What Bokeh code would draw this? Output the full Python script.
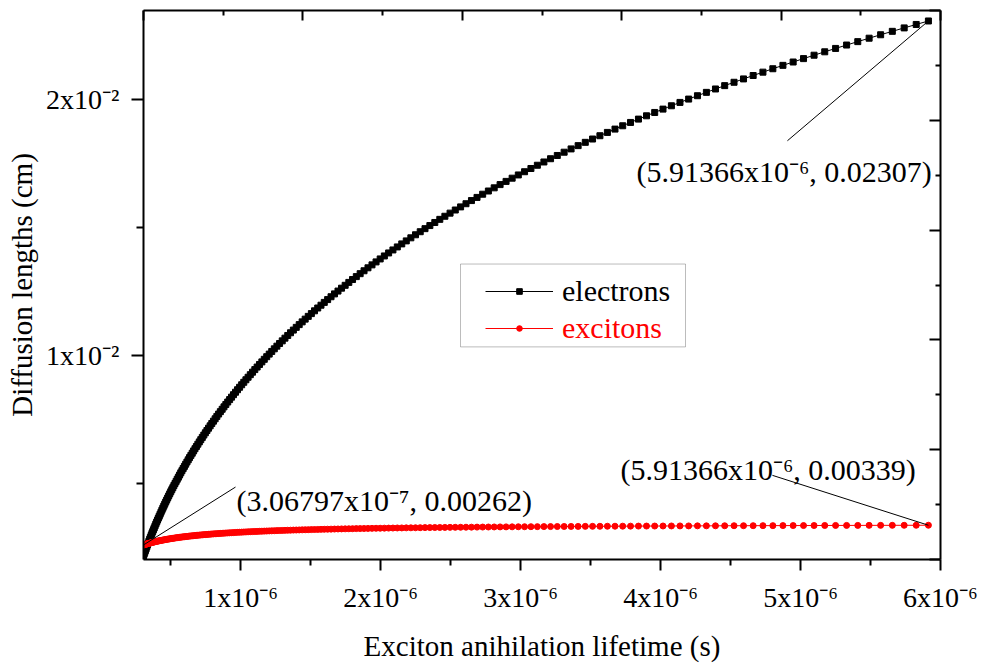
from bokeh.plotting import figure
from bokeh.models import (Range1d, LinearAxis, FixedTicker, Legend, LegendItem, Label,
                          BoxAnnotation, CustomLabelingPolicy)
from bokeh.embed import file_html
from bokeh.resources import INLINE

# ---------------- data (lifetime in microseconds, lengths in cm) ----------------
lifetime_us = [
    0.306797, 0.31139, 0.31606, 0.32079, 0.32560, 0.33047, 0.33543, 0.34045, 0.34555, 0.35073,
    0.35598, 0.36131, 0.36672, 0.37222, 0.37779, 0.38345, 0.38920, 0.39503, 0.40094, 0.40695,
    0.41305, 0.41923, 0.42551, 0.43189, 0.43836, 0.44492, 0.45159, 0.45835, 0.46522, 0.47219,
    0.47926, 0.48644, 0.49373, 0.50112, 0.50863, 0.51625, 0.52398, 0.53183, 0.53980, 0.54788,
    0.55609, 0.56442, 0.57288, 0.58146, 0.59017, 0.59901, 0.60798, 0.61709, 0.62633, 0.63572,
    0.64524, 0.65490, 0.66472, 0.67467, 0.68478, 0.69504, 0.70545, 0.71602, 0.72674, 0.73763,
    0.74868, 0.75989, 0.77128, 0.78283, 0.79456, 0.80646, 0.81854, 0.83080, 0.84324, 0.85588,
    0.86870, 0.88171, 0.89492, 0.90832, 0.92193, 0.93574, 0.94976, 0.96398, 0.97843, 0.99308,
    1.00796, 1.02306, 1.03838, 1.05394, 1.06972, 1.08575, 1.10201, 1.11852, 1.13528, 1.15228,
    1.16954, 1.18706, 1.20484, 1.22289, 1.24121, 1.25980, 1.27867, 1.29783, 1.31727, 1.33700,
    1.35703, 1.37736, 1.39799, 1.41893, 1.44019, 1.46176, 1.48366, 1.50588, 1.52844, 1.55134,
    1.57457, 1.59816, 1.62210, 1.64640, 1.67106, 1.69609, 1.72150, 1.74729, 1.77346, 1.80003,
    1.82699, 1.85436, 1.88214, 1.91033, 1.93895, 1.96799, 1.99747, 2.02740, 2.05777, 2.08859,
    2.11988, 2.15163, 2.18386, 2.21658, 2.24978, 2.28348, 2.31769, 2.35240, 2.38764, 2.42341,
    2.45971, 2.49656, 2.53395, 2.57191, 2.61044, 2.64954, 2.68923, 2.72952, 2.77040, 2.81190,
    2.85402, 2.89678, 2.94017, 2.98421, 3.02892, 3.07429, 3.12034, 3.16708, 3.21453, 3.26268,
    3.31155, 3.36116, 3.41151, 3.46261, 3.51448, 3.56712, 3.62056, 3.67480, 3.72984, 3.78571,
    3.84242, 3.89998, 3.95840, 4.01770, 4.07788, 4.13896, 4.20097, 4.26390, 4.32777, 4.39260,
    4.45840, 4.52518, 4.59297, 4.66177, 4.73160, 4.80248, 4.87442, 4.94744, 5.02155, 5.09677,
    5.17312, 5.25061, 5.32926, 5.40909, 5.49012, 5.57235, 5.65583, 5.74056, 5.82655, 5.91366,
]

electrons_cm = [
    0.002190, 0.002261, 0.002333, 0.002405, 0.002476, 0.002549, 0.002621, 0.002695, 0.002768, 0.002841,
    0.002914, 0.002988, 0.003063, 0.003137, 0.003212, 0.003287, 0.003363, 0.003439, 0.003515, 0.003591,
    0.003668, 0.003745, 0.003822, 0.003900, 0.003978, 0.004056, 0.004135, 0.004214, 0.004293, 0.004372,
    0.004452, 0.004532, 0.004613, 0.004694, 0.004774, 0.004855, 0.004938, 0.005020, 0.005102, 0.005185,
    0.005267, 0.005350, 0.005434, 0.005518, 0.005603, 0.005687, 0.005772, 0.005857, 0.005943, 0.006029,
    0.006116, 0.006202, 0.006290, 0.006377, 0.006464, 0.006553, 0.006642, 0.006730, 0.006819, 0.006909,
    0.006998, 0.007087, 0.007178, 0.007269, 0.007361, 0.007452, 0.007544, 0.007637, 0.007730, 0.007823,
    0.007916, 0.008010, 0.008104, 0.008199, 0.008294, 0.008390, 0.008485, 0.008581, 0.008678, 0.008775,
    0.008872, 0.008969, 0.009068, 0.009166, 0.009266, 0.009364, 0.009465, 0.009564, 0.009665, 0.009765,
    0.009866, 0.009968, 0.010070, 0.010173, 0.010275, 0.010379, 0.010483, 0.010586, 0.010691, 0.010796,
    0.010902, 0.011007, 0.011113, 0.011220, 0.011327, 0.011434, 0.011542, 0.011650, 0.011759, 0.011868,
    0.011977, 0.012087, 0.012197, 0.012308, 0.012419, 0.012530, 0.012642, 0.012754, 0.012867, 0.012980,
    0.013094, 0.013208, 0.013322, 0.013437, 0.013552, 0.013667, 0.013783, 0.013900, 0.014017, 0.014134,
    0.014252, 0.014370, 0.014488, 0.014607, 0.014726, 0.014846, 0.014965, 0.015086, 0.015206, 0.015328,
    0.015449, 0.015571, 0.015693, 0.015815, 0.015938, 0.016061, 0.016184, 0.016309, 0.016434, 0.016558,
    0.016684, 0.016809, 0.016935, 0.017061, 0.017187, 0.017313, 0.017440, 0.017567, 0.017694, 0.017821,
    0.017949, 0.018077, 0.018205, 0.018334, 0.018463, 0.018592, 0.018721, 0.018850, 0.018980, 0.019110,
    0.019240, 0.019369, 0.019500, 0.019630, 0.019761, 0.019892, 0.020022, 0.020153, 0.020284, 0.020416,
    0.020547, 0.020678, 0.020809, 0.020942, 0.021073, 0.021206, 0.021338, 0.021469, 0.021601, 0.021734,
    0.021867, 0.021999, 0.022131, 0.022264, 0.022398, 0.022532, 0.022666, 0.022800, 0.022934, 0.023070,
]

excitons_cm = [
    0.002620, 0.002628, 0.002636, 0.002644, 0.002652, 0.002660, 0.002668, 0.002676, 0.002684, 0.002692,
    0.002700, 0.002708, 0.002715, 0.002723, 0.002731, 0.002738, 0.002746, 0.002753, 0.002761, 0.002768,
    0.002776, 0.002783, 0.002790, 0.002797, 0.002804, 0.002812, 0.002818, 0.002825, 0.002832, 0.002839,
    0.002846, 0.002853, 0.002859, 0.002866, 0.002873, 0.002879, 0.002886, 0.002892, 0.002899, 0.002905,
    0.002911, 0.002918, 0.002924, 0.002930, 0.002936, 0.002942, 0.002948, 0.002954, 0.002960, 0.002966,
    0.002971, 0.002977, 0.002983, 0.002988, 0.002994, 0.003000, 0.003005, 0.003010, 0.003016, 0.003021,
    0.003026, 0.003031, 0.003036, 0.003042, 0.003047, 0.003052, 0.003057, 0.003061, 0.003066, 0.003071,
    0.003076, 0.003081, 0.003085, 0.003090, 0.003094, 0.003099, 0.003103, 0.003108, 0.003112, 0.003117,
    0.003121, 0.003125, 0.003129, 0.003133, 0.003138, 0.003142, 0.003146, 0.003149, 0.003153, 0.003157,
    0.003161, 0.003165, 0.003169, 0.003172, 0.003176, 0.003180, 0.003183, 0.003187, 0.003190, 0.003194,
    0.003197, 0.003201, 0.003204, 0.003207, 0.003211, 0.003214, 0.003217, 0.003220, 0.003223, 0.003226,
    0.003229, 0.003232, 0.003235, 0.003238, 0.003241, 0.003244, 0.003247, 0.003250, 0.003252, 0.003255,
    0.003258, 0.003260, 0.003263, 0.003266, 0.003268, 0.003271, 0.003273, 0.003276, 0.003278, 0.003281,
    0.003283, 0.003285, 0.003288, 0.003290, 0.003292, 0.003294, 0.003297, 0.003299, 0.003301, 0.003303,
    0.003305, 0.003307, 0.003309, 0.003311, 0.003313, 0.003315, 0.003317, 0.003319, 0.003321, 0.003323,
    0.003325, 0.003326, 0.003328, 0.003330, 0.003332, 0.003333, 0.003335, 0.003337, 0.003338, 0.003340,
    0.003342, 0.003343, 0.003345, 0.003346, 0.003348, 0.003349, 0.003351, 0.003352, 0.003354, 0.003355,
    0.003357, 0.003358, 0.003359, 0.003361, 0.003362, 0.003363, 0.003364, 0.003366, 0.003367, 0.003368,
    0.003369, 0.003371, 0.003372, 0.003373, 0.003374, 0.003375, 0.003376, 0.003377, 0.003378, 0.003379,
    0.003381, 0.003382, 0.003383, 0.003384, 0.003385, 0.003386, 0.003387, 0.003388, 0.003389, 0.003390,
]

x_tick_values = [1, 2, 3, 4, 5, 6]
x_tick_labels = ["1x10\u207b\u2076", "2x10\u207b\u2076", "3x10\u207b\u2076",
                 "4x10\u207b\u2076", "5x10\u207b\u2076", "6x10\u207b\u2076"]
x_minor_values = [0.5, 1.5, 2.5, 3.5, 4.5, 5.5]
y_tick_values = [0.01, 0.02]
y_tick_labels = ["1x10\u207b\u00b2", "2x10\u207b\u00b2"]
y_minor_values = [0.005, 0.015]
opposite_ticks = [0, 1, 2, 3, 4, 5]
opposite_minor = [0.5, 1.5, 2.5, 3.5, 4.5]

series_names = ["electrons", "excitons"]
x_title = "Exciton anihilation lifetime (s)"
y_title = "Diffusion lengths (cm)"
annotation_texts = ["(3.06797x10\u207b\u2077, 0.00262)",
                    "(5.91366x10\u207b\u2076, 0.02307)",
                    "(5.91366x10\u207b\u2076, 0.00339)"]

# ---------------- layout ----------------
FONT = "Liberation Serif"
W, H = 981, 664
FL, FT, FW, FH = 143, 10, 797, 550
X0, X1 = 0.306797, 6.0
Y0, Y1 = 0.002053, 0.023479
SX = (X1 - X0) / FW
SY = (Y1 - Y0) / FH

p = figure(width=W, height=H, x_range=Range1d(X0, X1), y_range=Range1d(Y0, Y1),
           output_backend="svg", toolbar_location=None,
           min_border_left=FL, min_border_top=FT,
           min_border_right=W - FL - FW, min_border_bottom=H - FT - FH)
p.grid.visible = False
p.outline_line_color = None
p.background_fill_color = "white"
p.border_fill_color = "white"


def style_axis(ax, t_out, m_out, t_in, m_in, label_size="28px"):
    ax.axis_line_color = "black"
    ax.axis_line_width = 2
    ax.major_tick_line_color = "black"
    ax.major_tick_line_width = 2
    ax.minor_tick_line_color = "black"
    ax.minor_tick_line_width = 2
    ax.major_tick_out = t_out
    ax.major_tick_in = t_in
    ax.minor_tick_out = m_out
    ax.minor_tick_in = m_in
    ax.major_label_text_font = FONT
    ax.major_label_text_font_size = label_size
    ax.major_label_text_color = "black"
    ax.axis_label_text_font = FONT
    ax.axis_label_text_font_size = "29px"
    ax.axis_label_text_font_style = "normal"
    ax.axis_label_text_color = "black"


xa = p.below[0]
style_axis(xa, 11, 6, 0, 0)
xa.ticker = FixedTicker(ticks=x_tick_values, minor_ticks=x_minor_values)
xa.major_label_overrides = dict(zip(x_tick_values, x_tick_labels))
xa.major_label_standoff = 11
xa.axis_label = x_title
xa.axis_label_standoff = 14

ya = p.left[0]
style_axis(ya, 12, 7, 0, 0)
ya.ticker = FixedTicker(ticks=y_tick_values, minor_ticks=y_minor_values)
ya.major_label_overrides = dict(zip(y_tick_values, y_tick_labels))
ya.major_label_standoff = 12
ya.axis_label = y_title
ya.axis_label_standoff = 5

p.extra_x_ranges = {"top": Range1d(opposite_ticks[0], opposite_ticks[-1])}
p.extra_y_ranges = {"right": Range1d(opposite_ticks[0], opposite_ticks[-1])}
top_axis = LinearAxis(x_range_name="top",
                      ticker=FixedTicker(ticks=opposite_ticks, minor_ticks=opposite_minor))
style_axis(top_axis, 0, 0, 10, 5, label_size="1px")
top_axis.major_label_policy = CustomLabelingPolicy(code="return new Set()")
top_axis.major_label_standoff = 0
p.add_layout(top_axis, "above")
right_axis = LinearAxis(y_range_name="right",
                        ticker=FixedTicker(ticks=opposite_ticks, minor_ticks=opposite_minor))
style_axis(right_axis, 0, 0, 11, 5, label_size="1px")
right_axis.major_label_policy = CustomLabelingPolicy(code="return new Set()")
right_axis.major_label_standoff = 0
p.add_layout(right_axis, "right")

# ---------------- series ----------------
e_line = p.line(lifetime_us, electrons_cm, line_color="black", line_width=1)
e_pts = p.scatter(lifetime_us, electrons_cm, marker="square", size=6,
                  fill_color="black", line_color="black")
x_line = p.line(lifetime_us, excitons_cm, line_color="red", line_width=1)
x_pts = p.scatter(lifetime_us, excitons_cm, marker="circle", size=6,
                  fill_color="red", line_color="red")

# ---------------- annotations with leader lines ----------------
anchors = [(lifetime_us[0], excitons_cm[0]),
           (lifetime_us[-1], electrons_cm[-1]),
           (lifetime_us[-1], excitons_cm[-1])]
text_offsets = [(93, -45), (-292, 151), (-308, -56)]      # px, +y downward
leader_offsets = [(92, -58), (-141, 120), (-156, -50)]
lx0, ly0, lx1, ly1 = [], [], [], []
for (ax_, ay_), (tdx, tdy), (ldx, ldy), txt in zip(anchors, text_offsets, leader_offsets, annotation_texts):
    lx0.append(ax_)
    ly0.append(ay_)
    lx1.append(ax_ + ldx * SX)
    ly1.append(ay_ - ldy * SY)
    p.add_layout(Label(x=ax_ + tdx * SX, y=ay_ - tdy * SY, text=txt,
                       text_font=FONT, text_font_size="30px", text_color="black",
                       text_baseline="alphabetic", text_align="left"))
p.segment(lx0, ly0, lx1, ly1, line_color="black", line_width=1)

# ---------------- legend ----------------
def px2data(px, py):
    return X0 + (px - FL) * SX, Y0 + (FT + FH - py) * SY

bl, bt = px2data(460, 264)
br, bb = px2data(685, 347)
p.add_layout(BoxAnnotation(left=bl, right=br, top=bt, bottom=bb,
                           fill_color="white", fill_alpha=1.0,
                           line_color="#222222", line_width=1))

legend_common = dict(label_text_font=FONT, label_text_font_size="30px",
                     glyph_width=68, glyph_height=14, label_height=32,
                     label_standoff=9, padding=0, spacing=0, margin=0,
                     border_line_color=None, background_fill_alpha=0.0)
leg1 = Legend(items=[LegendItem(label=series_names[0], renderers=[e_line, e_pts])],
              location=(342, 251), label_text_color="black", **legend_common)
leg2 = Legend(items=[LegendItem(label=series_names[1], renderers=[x_line, x_pts])],
              location=(342, 214), label_text_color="red", **legend_common)
p.add_layout(leg1)
p.add_layout(leg2)

open("out.html", "w").write(file_html(p, INLINE))
